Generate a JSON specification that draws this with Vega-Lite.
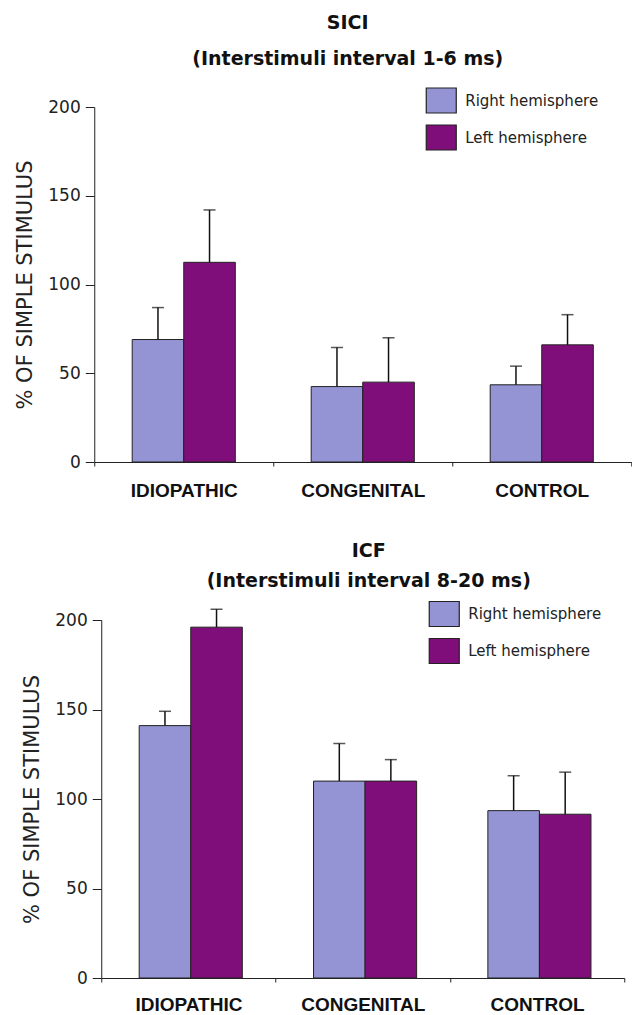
{
  "$schema": "https://vega.github.io/schema/vega-lite/v6.json",
  "background": "white",
  "padding": {"left": 14, "top": 13, "right": 0, "bottom": 0},
  "autosize": {"type": "pad"},
  "spacing": 42,
  "center": true,
  "datasets": {
    "bars": [
      {"panel": "SICI", "group": "IDIOPATHIC", "side": "Right hemisphere", "value": 69, "hi": 87},
      {"panel": "SICI", "group": "IDIOPATHIC", "side": "Left hemisphere", "value": 112.5, "hi": 142},
      {"panel": "SICI", "group": "CONGENITAL", "side": "Right hemisphere", "value": 42.5, "hi": 64.5},
      {"panel": "SICI", "group": "CONGENITAL", "side": "Left hemisphere", "value": 45, "hi": 70},
      {"panel": "SICI", "group": "CONTROL", "side": "Right hemisphere", "value": 43.5, "hi": 54},
      {"panel": "SICI", "group": "CONTROL", "side": "Left hemisphere", "value": 66, "hi": 83},
      {"panel": "ICF", "group": "IDIOPATHIC", "side": "Right hemisphere", "value": 141, "hi": 149},
      {"panel": "ICF", "group": "IDIOPATHIC", "side": "Left hemisphere", "value": 196, "hi": 206},
      {"panel": "ICF", "group": "CONGENITAL", "side": "Right hemisphere", "value": 110, "hi": 131},
      {"panel": "ICF", "group": "CONGENITAL", "side": "Left hemisphere", "value": 110, "hi": 122},
      {"panel": "ICF", "group": "CONTROL", "side": "Right hemisphere", "value": 93.5, "hi": 113},
      {"panel": "ICF", "group": "CONTROL", "side": "Left hemisphere", "value": 91.5, "hi": 115}
    ]
  },
  "config": {
    "view": {"stroke": null},
    "axis": {
      "grid": false,
      "domainColor": "#222",
      "tickColor": "#222",
      "labelColor": "#222",
      "titleColor": "#222",
      "labelFont": "DejaVu Sans",
      "labelFontSize": 17,
      "titleFont": "DejaVu Sans",
      "titleFontSize": 21,
      "titleFontWeight": "normal"
    },
    "legend": {
      "labelFont": "DejaVu Sans",
      "labelFontSize": 15,
      "labelColor": "#222"
    }
  },
  "vconcat": [
    {
      "width": 537,
      "height": 355,
      "title": {
        "text": ["SICI", "(Interstimuli interval 1-6 ms)"],
        "font": "DejaVu Sans",
        "fontSize": 19,
        "fontWeight": "bold",
        "color": "#111",
        "lineHeight": 36,
        "anchor": "middle",
        "frame": "group",
        "offset": 16,
        "dx": -15
      },
      "data": {"name": "bars"},
      "transform": [{"filter": "datum.panel === 'SICI'"}],
      "encoding": {
        "x": {
          "field": "group",
          "type": "nominal",
          "sort": ["IDIOPATHIC", "CONGENITAL", "CONTROL"],
          "scale": {"paddingInner": 0, "paddingOuter": 0},
          "axis": {
            "title": null,
            "labelAngle": 0,
            "tickBand": "extent",
            "tickSize": 4,
            "labelPadding": 15,
            "labelFont": "Liberation Sans",
            "labelFontWeight": "bold",
            "labelFontSize": 19,
            "labelColor": "#111"
          }
        },
        "xOffset": {
          "field": "side",
          "type": "nominal",
          "sort": ["Right hemisphere", "Left hemisphere"],
          "scale": {"paddingInner": 0, "paddingOuter": 0.736}
        }
      },
      "layer": [
        {
          "mark": {"type": "bar", "stroke": "#222", "strokeWidth": 1},
          "encoding": {
            "y": {
              "field": "value",
              "type": "quantitative",
              "scale": {"domain": [0, 200], "nice": false},
              "axis": {"values": [0, 50, 100, 150, 200], "tickSize": 9, "labelPadding": 5, "titlePadding": 12, "title": "% OF SIMPLE STIMULUS"}
            },
            "color": {
              "field": "side",
              "type": "nominal",
              "scale": {"domain": ["Right hemisphere", "Left hemisphere"], "range": ["#9494d4", "#800e7a"]},
              "legend": {
                "title": null,
                "orient": "none",
                "legendX": 331,
                "legendY": -22.5,
                "padding": 0,
                "symbolType": "M-1,-0.833L1,-0.833L1,0.833L-1,0.833Z",
                "symbolSize": 900,
                "symbolStrokeColor": "#222",
                "symbolStrokeWidth": 1.2,
                "symbolOpacity": 1,
                "rowPadding": 6,
                "labelOffset": 8
              }
            }
          }
        },
        {
          "mark": {"type": "rule", "color": "#111", "strokeWidth": 1.5},
          "encoding": {
            "y": {"field": "value", "type": "quantitative"},
            "y2": {"field": "hi"}
          }
        },
        {
          "mark": {"type": "tick", "color": "#111", "size": 12, "thickness": 1.5, "orient": "horizontal"},
          "encoding": {
            "y": {"field": "hi", "type": "quantitative"}
          }
        }
      ]
    },
    {
      "width": 523,
      "height": 358,
      "title": {
        "text": ["ICF", "(Interstimuli interval 8-20 ms)"],
        "font": "DejaVu Sans",
        "fontSize": 19,
        "fontWeight": "bold",
        "color": "#111",
        "lineHeight": 30,
        "anchor": "middle",
        "frame": "group",
        "offset": 7,
        "dx": 6
      },
      "data": {"name": "bars"},
      "transform": [{"filter": "datum.panel === 'ICF'"}],
      "encoding": {
        "x": {
          "field": "group",
          "type": "nominal",
          "sort": ["IDIOPATHIC", "CONGENITAL", "CONTROL"],
          "scale": {"paddingInner": 0, "paddingOuter": 0},
          "axis": {
            "title": null,
            "labelAngle": 0,
            "tickBand": "extent",
            "tickSize": 4,
            "labelPadding": 13,
            "labelFont": "Liberation Sans",
            "labelFontWeight": "bold",
            "labelFontSize": 19,
            "labelColor": "#111"
          }
        },
        "xOffset": {
          "field": "side",
          "type": "nominal",
          "sort": ["Right hemisphere", "Left hemisphere"],
          "scale": {"paddingInner": 0, "paddingOuter": 0.736}
        }
      },
      "layer": [
        {
          "mark": {"type": "bar", "stroke": "#222", "strokeWidth": 1},
          "encoding": {
            "y": {
              "field": "value",
              "type": "quantitative",
              "scale": {"domain": [0, 200], "nice": false},
              "axis": {"values": [0, 50, 100, 150, 200], "tickSize": 9, "labelPadding": 5, "titlePadding": 12, "title": "% OF SIMPLE STIMULUS"}
            },
            "color": {
              "field": "side",
              "type": "nominal",
              "scale": {"domain": ["Right hemisphere", "Left hemisphere"], "range": ["#9494d4", "#800e7a"]},
              "legend": {
                "title": null,
                "orient": "none",
                "legendX": 327,
                "legendY": -22,
                "padding": 0,
                "symbolType": "M-1,-0.833L1,-0.833L1,0.833L-1,0.833Z",
                "symbolSize": 900,
                "symbolStrokeColor": "#222",
                "symbolStrokeWidth": 1.2,
                "symbolOpacity": 1,
                "rowPadding": 6,
                "labelOffset": 8
              }
            }
          }
        },
        {
          "mark": {"type": "rule", "color": "#111", "strokeWidth": 1.5},
          "encoding": {
            "y": {"field": "value", "type": "quantitative"},
            "y2": {"field": "hi"}
          }
        },
        {
          "mark": {"type": "tick", "color": "#111", "size": 12, "thickness": 1.5, "orient": "horizontal"},
          "encoding": {
            "y": {"field": "hi", "type": "quantitative"}
          }
        }
      ]
    }
  ],
  "resolve": {"scale": {"color": "independent"}}
}
